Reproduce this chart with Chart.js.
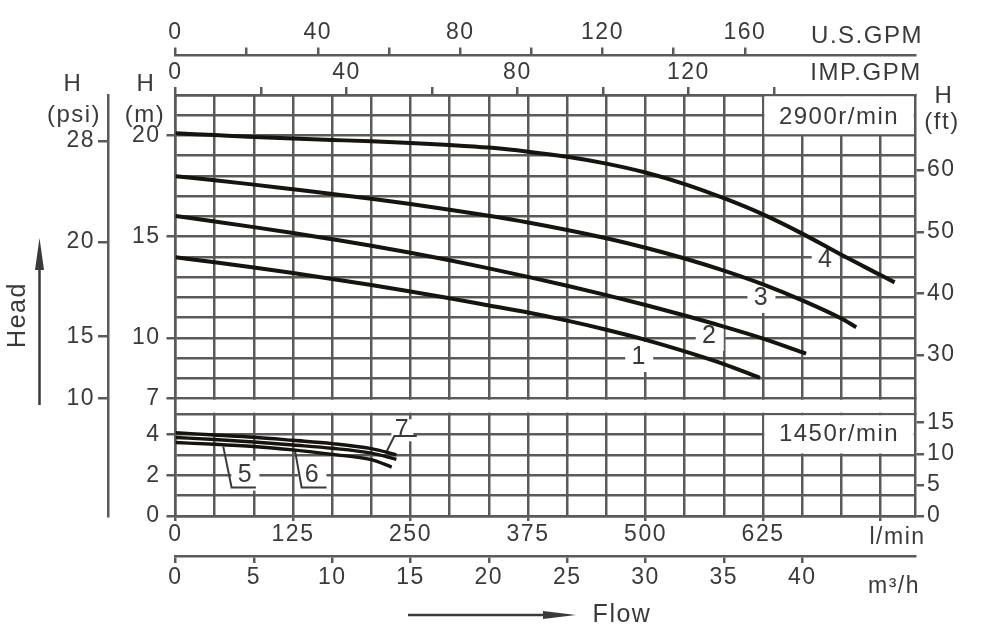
<!DOCTYPE html>
<html>
<head>
<meta charset="utf-8">
<script src="https://cdn.jsdelivr.net/npm/chart.js@4.4.1/dist/chart.umd.min.js"></script>
<style>
  html, body { margin: 0; padding: 0; background: #fff; }
  #wrap { width: 988px; height: 634px; }
</style>
</head>
<body>
<div id="wrap"><canvas id="pumpChart" width="988" height="634"></canvas></div>
<script>
// ---- curves, 2900 r/min (flow in m3/h, head in m) ----
const flow1 = [0, 2.5, 5, 7.5, 10, 12.5, 15, 17.5, 20, 22.5, 25, 27.5, 30, 32.5, 35, 37.3];
const head1 = [13.98, 13.73, 13.47, 13.2, 12.91, 12.61, 12.29, 11.95, 11.6, 11.25, 10.85, 10.4, 9.9, 9.33, 8.7, 8.02];
const flow2 = [0, 2.5, 5, 7.5, 10, 12.5, 15, 17.5, 20, 22.5, 25, 27.5, 30, 32.5, 35, 37.5, 40.25];
const head2 = [16.02, 15.75, 15.47, 15.18, 14.87, 14.55, 14.2, 13.83, 13.43, 13.01, 12.57, 12.11, 11.62, 11.1, 10.55, 9.96, 9.22];
const flow3 = [0, 2.5, 5, 7.5, 10, 12.5, 15, 17.5, 20, 22.5, 25, 27.5, 30, 32.5, 35, 37.5, 40, 42.5, 43.45];
const head3 = [17.98, 17.79, 17.57, 17.34, 17.11, 16.87, 16.61, 16.33, 16.03, 15.7, 15.33, 14.92, 14.45, 13.92, 13.32, 12.64, 11.85, 10.95, 10.52];
const flow4 = [0, 2.5, 5, 7.5, 10, 12.5, 15, 17.5, 20, 22.5, 25, 27.5, 30, 32.5, 35, 37.5, 40, 42.5, 45, 45.9];
const head4 = [20.11, 20.02, 19.93, 19.85, 19.78, 19.71, 19.63, 19.53, 19.4, 19.2, 18.95, 18.61, 18.17, 17.6, 16.9, 16.1, 15.15, 14.1, 13.1, 12.74];

// ---- curves, 1450 r/min ----
const flow5 = [0, 2.5, 5, 7.5, 10, 12.5, 13.8];
const head5 = [3.6, 3.52, 3.41, 3.24, 3.02, 2.76, 2.4];
const flow6 = [0, 2.5, 5, 7.5, 10, 12.5, 14.1];
const head6 = [3.85, 3.75, 3.63, 3.48, 3.32, 3.08, 2.78];
const flow7 = [0, 2.5, 5, 7.5, 10, 12.5, 14.1];
const head7 = [4.08, 3.97, 3.86, 3.71, 3.55, 3.3, 3.0];

// ---- tick labels ----
const lminLabels = [0, 125, 250, 375, 500, 625];
const m3hLabels = [0, 5, 10, 15, 20, 25, 30, 35, 40];
const usLabels = [0, 40, 80, 120, 160];
const usMinor = [20, 60, 100, 140];
const impLabels = [0, 40, 80, 120];
const impMinor = [20, 60, 100, 140];
const headTopLabels = [20, 15, 10, 7];
const headBotLabels = [4, 2, 0];
const ftTopLabels = [30, 40, 50, 60];
const ftBotLabels = [0, 5, 10, 15];
const psiLabels = [28, 20, 15, 10];
const psiAtHead = [19.72, 14.74, 10.08, 7.0];   // where the psi marks sit on the m scale

// ---- units / ranges ----
const FLOW_MAX = 47.2;            // m3/h at right frame
const LPM = 1000 / 60;            // l/min per m3/h
const US_GAL = 3.78541, IMP_GAL = 4.54609, FT = 3.28084;
const TOP_MIN = 7, TOP_MAX = 22, BOT_MIN = 0, BOT_MAX = 5;
const W_TOP = 303.5, W_GAP = 15.5, W_BOT = 102;

const LINE = '#5a5a5a';
const INK = '#3a3a3a';
const CURVE = '#17130f';
const FONT = "'Liberation Sans', Arial, sans-serif";
const NONE = 'rgba(0,0,0,0)';

Chart.defaults.font.family = FONT;
Chart.defaults.font.size = 23;
Chart.defaults.color = INK;

const fixW = w => s => { s.width = w; };
const fixH = h => s => { s.height = h; };
const setTicks = vals => s => { s.ticks = vals.map(v => ({ value: v })); };
const range = (a, b, step) => { const r = []; for (let v = a; v <= b + 1e-9; v += step) r.push(+v.toFixed(6)); return r; };
const has = (list, v) => list.some(t => Math.abs(t - v) < 1e-6);

const speedBoxes = [
  { text: '2900r/min', axis: 'yTop', from: 37.5, top: 22, bottom: 20, textAt: 20.88 },
  { text: '1450r/min', axis: 'yBot', from: 37.5, top: 5, bottom: 3, textAt: 3.98 }
];
const curveTags = [
  { text: '1', axis: 'yTop', q: 29.6, h: 9.05 },
  { text: '2', axis: 'yTop', q: 34.1, h: 10.1 },
  { text: '3', axis: 'yTop', q: 37.4, h: 11.97 },
  { text: '4', axis: 'yTop', q: 41.5, h: 13.85 },
  { text: '5', axis: 'yBot', q: 4.46, h: 1.98, leader: [[3.05, 3.4], [3.58, 1.4], [5.13, 1.4]] },
  { text: '6', axis: 'yBot', q: 8.74, h: 1.98, leader: [[7.62, 3.24], [8.05, 1.4], [9.64, 1.4]] },
  { text: '7', axis: 'yBot', q: 14.48, h: 4.2, w: 22, hh: 22, leader: [[13.46, 3.14], [13.97, 3.92], [15.4, 3.92]] }
];

function txt(ctx, str, x, y, size, align, base) {
  ctx.font = size + 'px ' + FONT;
  ctx.fillStyle = INK;
  ctx.textAlign = align || 'center';
  ctx.textBaseline = base || 'middle';
  ctx.fillText(str, x, y);
}

const decor = {
  id: 'decor',
  beforeDraw(chart) { chart.ctx.letterSpacing = '1.5px'; },
  beforeDatasetsDraw(chart) {
    const { ctx, chartArea: a, scales: s } = chart;
    ctx.save();
    ctx.letterSpacing = '1.5px';
    ctx.fillStyle = '#fff';
    // white band between the two panels
    const g1 = s.yTop.getPixelForValue(TOP_MIN), g2 = s.yBot.getPixelForValue(BOT_MAX);
    ctx.fillRect(a.left + 1.4, g1 + 1.3, a.right - a.left - 2.8, g2 - g1 - 2.6);
    // speed boxes
    speedBoxes.forEach(b => {
      const y = s[b.axis];
      const x1 = s.m3h.getPixelForValue(b.from);
      const y1 = y.getPixelForValue(b.top), y2 = y.getPixelForValue(b.bottom);
      ctx.fillStyle = '#fff';
      ctx.fillRect(x1 + 1.3, y1 + 1.3, a.right - x1 - 2.6, y2 - y1 - 2.6);
      txt(ctx, b.text, (x1 + a.right) / 2, y.getPixelForValue(b.textAt), 24);
    });
    // curve numbers
    curveTags.forEach(t => {
      const y = s[t.axis];
      const px = s.m3h.getPixelForValue(t.q), py = y.getPixelForValue(t.h);
      const w = t.w || 28, hh = t.hh || 30;
      ctx.fillStyle = '#fff';
      ctx.fillRect(px - w / 2, py - hh / 2, w, hh);
      txt(ctx, t.text, px, py, 25);
      if (t.leader) {
        ctx.beginPath();
        t.leader.forEach((p, i) => {
          const lx = s.m3h.getPixelForValue(p[0]), ly = y.getPixelForValue(p[1]);
          if (i) ctx.lineTo(lx, ly); else ctx.moveTo(lx, ly);
        });
        ctx.strokeStyle = INK;
        ctx.lineWidth = 2;
        ctx.stroke();
      }
    });
    ctx.restore();
  },
  afterDraw(chart) {
    const { ctx, chartArea: a, scales: s } = chart;
    ctx.save();
    ctx.letterSpacing = '1.5px';
    txt(ctx, 'H', 73, 84, 24);
    txt(ctx, '(psi)', 74, 115, 24);
    txt(ctx, 'H', 146, 84, 24);
    txt(ctx, '(m)', 145, 115, 24);
    txt(ctx, 'H', a.right + 29, 96, 24);
    txt(ctx, '(ft)', a.right + 27, 122, 24);
    txt(ctx, 'U.S.GPM', a.right - 48, 36, 24);
    txt(ctx, 'IMP.GPM', a.right - 49, 73, 24);
    txt(ctx, 'l/min', s.lmin.getPixelForValue(750) + 17, 538, 23);
    txt(ctx, 'm\u00B3/h', a.right - 47, 593, 23, 'left', 'alphabetic');
    txt(ctx, 'Flow', 622, 615, 25);
    // Head label + arrow
    ctx.save();
    ctx.translate(18.5, 315);
    ctx.rotate(-Math.PI / 2);
    txt(ctx, 'Head', 0, 0, 25);
    ctx.restore();
    ctx.strokeStyle = INK;
    ctx.fillStyle = INK;
    ctx.lineWidth = 2.5;
    ctx.beginPath(); ctx.moveTo(39.5, 405); ctx.lineTo(39.5, 262); ctx.stroke();
    ctx.beginPath(); ctx.moveTo(39.5, 238); ctx.lineTo(35, 270); ctx.lineTo(44, 270); ctx.closePath(); ctx.fill();
    // Flow arrow
    ctx.beginPath(); ctx.moveTo(408, 615); ctx.lineTo(550, 615); ctx.stroke();
    ctx.beginPath(); ctx.moveTo(576, 615); ctx.lineTo(543, 611); ctx.lineTo(543, 619); ctx.closePath(); ctx.fill();
    ctx.restore();
  }
};

const curveSets = [
  { label: '1', flow: flow1, head: head1, axis: 'yTop', w: 4 },
  { label: '2', flow: flow2, head: head2, axis: 'yTop', w: 4 },
  { label: '3', flow: flow3, head: head3, axis: 'yTop', w: 4 },
  { label: '4', flow: flow4, head: head4, axis: 'yTop', w: 4 },
  { label: '5', flow: flow5, head: head5, axis: 'yBot', w: 3.4 },
  { label: '6', flow: flow6, head: head6, axis: 'yBot', w: 3.4 },
  { label: '7', flow: flow7, head: head7, axis: 'yBot', w: 3.4 }
];

const gridBase = { color: LINE, lineWidth: 2.5 };
const border = { color: LINE, width: 2.5 };
const tickBase = { autoSkip: false, maxRotation: 0, minRotation: 0 };

new Chart(document.getElementById('pumpChart'), {
  type: 'line',
  data: {
    datasets: curveSets.map(c => ({
      label: c.label,
      data: c.flow.map((q, i) => ({ x: q, y: c.head[i] })),
      xAxisID: 'm3h',
      yAxisID: c.axis,
      borderColor: CURVE,
      borderWidth: c.w,
      pointRadius: 0,
      cubicInterpolationMode: 'monotone',
      fill: false
    }))
  },
  options: {
    responsive: false,
    devicePixelRatio: 1,
    animation: false,
    events: [],
    layout: { autoPadding: false, padding: { left: 40, right: 0, top: 10, bottom: 38 } },
    plugins: { legend: { display: false }, tooltip: { enabled: false } },
    scales: {
      us: {
        type: 'linear', axis: 'x', position: 'top', weight: 2,
        min: 0, max: FLOW_MAX * LPM / US_GAL,
        afterBuildTicks: setTicks(usLabels.concat(usMinor).sort((a, b) => a - b)),
        afterFit: fixH(45.5),
        grid: { ...gridBase, drawOnChartArea: false, tickLength: 8 },
        border,
        ticks: { ...tickBase, padding: 1, callback: v => has(usLabels, v) ? v : '' }
      },
      imp: {
        type: 'linear', axis: 'x', position: 'top', weight: 1,
        min: 0, max: FLOW_MAX * LPM / IMP_GAL,
        afterBuildTicks: setTicks(impLabels.concat(impMinor).sort((a, b) => a - b)),
        afterFit: fixH(39.5),
        grid: { ...gridBase, drawOnChartArea: false, tickLength: 8 },
        border,
        ticks: { ...tickBase, padding: 1, callback: v => has(impLabels, v) ? v : '' }
      },
      lmin: {
        type: 'linear', axis: 'x', position: 'bottom', weight: 1,
        min: 0, max: FLOW_MAX * LPM,
        afterBuildTicks: setTicks(range(0, 750, 2.5 * LPM)),
        afterFit: fixH(40),
        grid: { ...gridBase, tickLength: 5, tickColor: c => (c.tick && Math.abs(c.tick.value / 125 - Math.round(c.tick.value / 125)) < 1e-6) ? LINE : NONE },
        border,
        ticks: { ...tickBase, padding: 0, callback: v => has(lminLabels, v) ? Math.round(v) : '' }
      },
      m3h: {
        type: 'linear', axis: 'x', position: 'bottom', weight: 2,
        min: 0, max: FLOW_MAX,
        afterBuildTicks: setTicks(m3hLabels),
        afterFit: fixH(40),
        grid: { ...gridBase, drawOnChartArea: false, tickLength: 7 },
        border,
        ticks: { ...tickBase, padding: 1 }
      },
      psi: {
        type: 'linear', axis: 'y', position: 'left', weight: 10,
        max: TOP_MAX,
        min: TOP_MAX - (TOP_MAX - TOP_MIN) * (W_TOP + W_GAP + W_BOT) / W_TOP,
        afterBuildTicks: setTicks(psiAtHead),
        afterFit: fixW(68),
        grid: { ...gridBase, drawOnChartArea: false, tickLength: 10 },
        border,
        ticks: { ...tickBase, padding: 3, callback: (v, i) => psiLabels[i] }
      },
      yTop: {
        type: 'linear', axis: 'y', position: 'left', weight: 3,
        stack: 'left', stackWeight: W_TOP,
        min: TOP_MIN, max: TOP_MAX,
        afterBuildTicks: setTicks(range(TOP_MIN, TOP_MAX, 1)),
        afterFit: fixW(67.5),
        grid: { ...gridBase, tickLength: 9, tickColor: c => (c.tick && has(headTopLabels, c.tick.value)) ? LINE : NONE },
        border,
        ticks: { ...tickBase, padding: 6, callback: v => has(headTopLabels, v) ? v : '' }
      },
      gapL: {
        type: 'linear', axis: 'y', position: 'left', weight: 2,
        stack: 'left', stackWeight: W_GAP, min: 0, max: 1,
        afterFit: fixW(67.5),
        grid: { display: false }, border, ticks: { display: false }
      },
      yBot: {
        type: 'linear', axis: 'y', position: 'left', weight: 1,
        stack: 'left', stackWeight: W_BOT,
        min: BOT_MIN, max: BOT_MAX,
        afterBuildTicks: setTicks(range(BOT_MIN, BOT_MAX, 1)),
        afterFit: fixW(67.5),
        grid: { ...gridBase, tickLength: 9, tickColor: c => (c.tick && has(headBotLabels, c.tick.value)) ? LINE : NONE },
        border,
        ticks: { ...tickBase, padding: 6, callback: v => has(headBotLabels, v) ? v : '' }
      },
      ftTop: {
        type: 'linear', axis: 'y', position: 'right', weight: 1,
        stack: 'right', stackWeight: W_TOP,
        min: TOP_MIN * FT, max: TOP_MAX * FT,
        afterBuildTicks: setTicks(ftTopLabels),
        afterFit: fixW(73),
        grid: { ...gridBase, drawOnChartArea: false, tickLength: 9 },
        border,
        ticks: { ...tickBase, padding: 3 }
      },
      gapR: {
        type: 'linear', axis: 'y', position: 'right', weight: 2,
        stack: 'right', stackWeight: W_GAP, min: 0, max: 1,
        afterFit: fixW(73),
        grid: { display: false }, border, ticks: { display: false }
      },
      ftBot: {
        type: 'linear', axis: 'y', position: 'right', weight: 3,
        stack: 'right', stackWeight: W_BOT,
        min: BOT_MIN * FT, max: BOT_MAX * FT,
        afterBuildTicks: setTicks(ftBotLabels),
        afterFit: fixW(73),
        grid: { ...gridBase, drawOnChartArea: false, tickLength: 9 },
        border,
        ticks: { ...tickBase, padding: 3 }
      }
    }
  },
  plugins: [decor]
});
</script>
</body>
</html>
